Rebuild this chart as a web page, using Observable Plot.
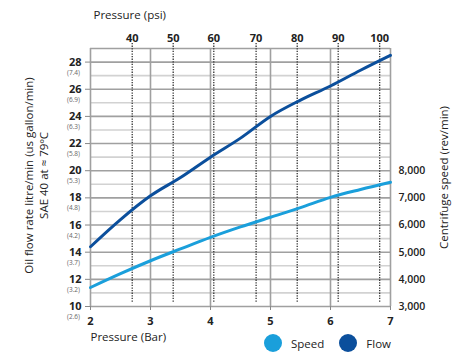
<!DOCTYPE html>
<html><head><meta charset="utf-8">
<script src="https://cdn.jsdelivr.net/npm/d3@7"></script>
<script src="https://cdn.jsdelivr.net/npm/@observablehq/plot@0.6"></script>
<style>
body{margin:0;background:#fff;font-family:"Open Sans",sans-serif;}
#wrap{position:relative;width:461px;height:360px;}
.legend{position:absolute;top:334px;left:264px;display:flex;align-items:center;font-size:11.5px;color:#222;}
.legend .sw{width:18px;height:18px;border-radius:50%;display:inline-block;margin-right:9px;}
.legend .it{display:flex;align-items:center;margin-right:15px;}
</style>
</head><body><div id="wrap"></div>
<script>
const pressureBar = [2, 2.5, 3, 3.5, 4, 4.5, 5, 5.5, 6, 6.5, 7];
const flowLpm = [14.4, 16.4, 18.15, 19.5, 21.0, 22.4, 24.0, 25.2, 26.24, 27.4, 28.5];
const speedRpm = [3700, 4210, 4685, 5120, 5545, 5930, 6285, 6640, 7020, 7310, 7575];
const flowTicks = [10, 12, 14, 16, 18, 20, 22, 24, 26, 28];
const gallonLabels = ["(2.6)", "(3.2)", "(3.7)", "(4.2)", "(4.8)", "(5.3)", "(5.8)", "(6.3)", "(6.9)", "(7.4)"];
const speedTicks = [3000, 4000, 5000, 6000, 7000, 8000];
const barTicks = [2, 3, 4, 5, 6, 7];
const psiTicks = [40, 50, 60, 70, 80, 90, 100];
const psiBarPos = [2.695, 3.378, 4.055, 4.76, 5.445, 6.128, 6.82];
const series = [
  {name: "Speed", color: "#1a9fdb"},
  {name: "Flow", color: "#0b4f9c"}
];

// speed (rev/min) shares the flow axis: 3,000 ↔ 10, +1,000 per 2 units
const speedToY = s => 10 + (s - 3000) / 500;
const yToSpeed = y => 3000 + (y - 10) * 500;

const flowData = pressureBar.map((p, i) => ({p, v: flowLpm[i]}));
const speedData = pressureBar.map((p, i) => ({p, v: speedToY(speedRpm[i])}));
const minorY = d3.range(11, 29, 2);
const majorY = flowTicks.concat([29]);

const chart = Plot.plot({
  width: 461, height: 360,
  marginLeft: 90, marginRight: 71, marginTop: 48, marginBottom: 54,
  style: {fontFamily: "'Open Sans', sans-serif", color: "#222", background: "#fff"},
  x: {domain: [2, 7]},
  y: {domain: [10, 29]},
  marks: [
    Plot.ruleY(minorY, {stroke: "#d2d2d2", strokeWidth: 1.6}),
    Plot.ruleY(majorY, {stroke: "#a0a0a0", strokeWidth: 1.6}),
    Plot.ruleX(barTicks, {stroke: "#a0a0a0", strokeWidth: 1.6}),
    Plot.ruleX(psiBarPos, {stroke: "#222", strokeWidth: 1.2, strokeDasharray: "1.3,1.3", insetTop: -5, insetBottom: 3}),
    Plot.line(speedData, {x: "p", y: "v", stroke: series[0].color, strokeWidth: 3, curve: "monotone-x"}),
    Plot.line(flowData, {x: "p", y: "v", stroke: series[1].color, strokeWidth: 3, curve: "monotone-x"}),
    Plot.axisY(flowTicks, {anchor: "left", tickSize: 5, tickPadding: 4, fontWeight: "bold", fontSize: 11, stroke: "#888", label: null}),
    Plot.text(flowTicks, {y: d => d, frameAnchor: "left", textAnchor: "middle", text: (d, i) => gallonLabels[i], dx: -17, dy: 10.5, fontSize: 6.5, fill: "#666"}),
    Plot.axisY(speedTicks.map(speedToY), {anchor: "right", tickSize: 0, tickPadding: 8, fontWeight: 600, fontSize: 10.5, tickFormat: d => d3.format(",")(yToSpeed(d)), label: null}),
    Plot.axisX(barTicks, {anchor: "bottom", tickSize: 4, tickPadding: 7, fontWeight: "bold", fontSize: 11, stroke: "#888", label: null}),
    Plot.text(psiTicks, {x: (d, i) => psiBarPos[i], frameAnchor: "top", dy: -14, fontWeight: "bold", fontSize: 11, fill: "#222"}),
    Plot.text(["Pressure (psi)"], {frameAnchor: "top-left", textAnchor: "start", dx: 3, dy: -38, fontSize: 11.5, fontWeight: 500, fill: "#222"}),
    Plot.text(["Pressure (Bar)"], {frameAnchor: "bottom-left", textAnchor: "start", dx: 0, dy: 34, fontSize: 11.5, fontWeight: 500, fill: "#222"}),
    Plot.text(["Oil flow rate litre/min (us gallon/min)"], {frameAnchor: "left", textAnchor: "middle", dx: -61, dy: -2, rotate: -90, fontSize: 11.5, fill: "#222"}),
    Plot.text(["SAE 40 at ≈ 79ºC"], {frameAnchor: "left", textAnchor: "middle", dx: -46, dy: -2, rotate: -90, fontSize: 11.5, fill: "#222"}),
    Plot.text(["Centrifuge speed (rev/min)"], {frameAnchor: "right", textAnchor: "middle", dx: 54, dy: 0, rotate: -90, fontSize: 11.5, fill: "#222"})
  ]
});
const wrap = document.getElementById("wrap");
wrap.appendChild(chart);
const leg = document.createElement("div");
leg.className = "legend";
series.forEach(s => {
  const it = document.createElement("div");
  it.className = "it";
  const sw = document.createElement("span");
  sw.className = "sw";
  sw.style.background = s.color;
  it.appendChild(sw);
  it.appendChild(document.createTextNode(s.name));
  leg.appendChild(it);
});
wrap.appendChild(leg);
</script>
</body></html>
